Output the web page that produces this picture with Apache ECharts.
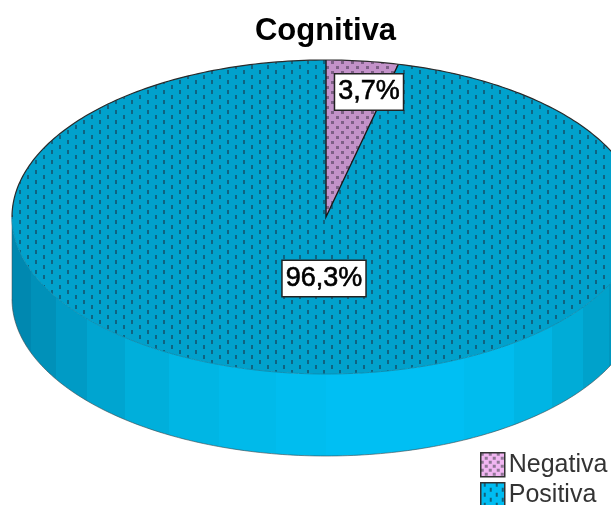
<!DOCTYPE html>
<html><head><meta charset="utf-8">
<style>html,body{margin:0;padding:0;background:#fff}#c{width:611px;height:505px}</style>
<script src="https://cdn.jsdelivr.net/npm/echarts@6/dist/echarts.min.js"></script>
</head><body><div id="c"></div>
<script>
const chartTitle = 'Cognitiva';
const categories = ['Negativa', 'Positiva'];
const values = [3.7, 96.3];

const FONT = '"Liberation Sans", Arial, sans-serif';
const CX = 326, CY = 217, RX = 314, RY = 157, DEPTH = 82;

function tile(w, h, bg, dots, dotColor, dw, dh) {
  const c = document.createElement('canvas');
  c.width = w; c.height = h;
  const g = c.getContext('2d');
  g.fillStyle = bg; g.fillRect(0, 0, w, h);
  dots.forEach(d => {
    g.fillStyle = dotColor;
    g.fillRect(d[0], d[1], dw, dh);
  });
  return { image: c, repeat: 'repeat' };
}
const blueTop = tile(16, 10, '#01a1cc', [[3, 0], [11, 5]], '#0f6482', 2, 4);
const pinkTop = tile(10, 10, '#c392c9', [[1, 1], [6, 6]], '#7d5f86', 3, 3);
const blueKey = tile(12, 10, '#00bdf2', [[3, 0], [9, 5]], '#12617c', 2, 4);
const pinkKey = tile(8, 8, '#f2b6f2', [[0, 0], [4, 4]], '#8f7695', 3, 3);

const wallBands = [
  [0.00, '#0088b0'], [0.03, '#0091b9'], [0.07, '#009bc5'], [0.12, '#00a5d0'],
  [0.18, '#00afdb'], [0.25, '#00b6e4'], [0.33, '#00baea'], [0.42, '#00bdef'],
  [0.50, '#00bff3'], [0.72, '#00bcee'], [0.80, '#00b5e4'], [0.86, '#00acd7'],
  [0.91, '#00a2cb'], [0.95, '#0097bf'], [1.00, '#0097bf']
];
function wallStops() {
  const s = [];
  wallBands.forEach((b, i) => {
    if (i) s.push({ offset: b[0], color: wallBands[i - 1][1] });
    s.push({ offset: b[0], color: b[1] });
  });
  return s;
}
// angle measured clockwise from the top of the pie, in share units
function pt(a, dy) {
  const t = a * Math.PI * 2;
  return [CX + RX * Math.sin(t), CY - RY * Math.cos(t) + (dy || 0)];
}
function arc(a0, a1, dy) {
  const n = Math.max(2, Math.ceil(Math.abs(a1 - a0) * 360));
  const out = [];
  for (let i = 0; i <= n; i++) out.push(pt(a0 + (a1 - a0) * i / n, dy));
  return out;
}
const total = values.reduce((a, b) => a + b, 0);
const labelBox = {
  Negativa: [369, 92],
  Positiva: [324, 278.5]
};

function renderSlice(idx, fill) {
  return function (params, api) {
    const v = api.value(0);
    let before = 0;
    for (let i = 0; i < idx; i++) before += values[i];
    const a0 = before / total, a1 = a0 + v / total;
    const children = [];
    if (idx === 1) {
      const lower = arc(0.25, 0.75, DEPTH);
      const upper = arc(0.75, 0.25, 0);
      children.push({
        type: 'polygon', shape: { points: lower.concat(upper) },
        style: { fill: { type: 'linear', x: 0, y: 0, x2: 1, y2: 0, colorStops: wallStops() }, stroke: null }
      });
      children.push({
        type: 'polyline', shape: { points: lower },
        style: { fill: null, stroke: 'rgba(60,70,75,0.6)', lineWidth: 1 }
      });
      children.push({
        type: 'line', shape: { x1: CX - RX, y1: CY, x2: CX - RX, y2: CY + DEPTH },
        style: { stroke: 'rgba(60,70,75,0.5)', lineWidth: 1 }
      });
    }
    children.push({
      type: 'polygon', shape: { points: [[CX, CY]].concat(arc(a0, a1)) },
      style: { fill: fill, stroke: null }
    });
    if (idx === 1) {
      children.push({
        type: 'polyline', shape: { points: arc(0.25, 0.75) },
        style: { fill: null, stroke: '#0b8fb3', lineWidth: 1 }
      });
      children.push({
        type: 'polyline', shape: { points: arc(0.75, 1) },
        style: { fill: null, stroke: '#2a2a2a', lineWidth: 1.2 }
      });
      children.push({
        type: 'polyline', shape: { points: arc(a0, 0.25) },
        style: { fill: null, stroke: '#2a2a2a', lineWidth: 1.2 }
      });
    } else {
      children.push({
        type: 'polyline', shape: { points: [pt(a1)].concat([[CX, CY]], [pt(a0)]) },
        style: { fill: null, stroke: '#161616', lineWidth: 1.4 }
      });
      children.push({
        type: 'polyline', shape: { points: arc(a0, a1) },
        style: { fill: null, stroke: '#2a2a2a', lineWidth: 1.2 }
      });
    }
    const c = labelBox[categories[idx]];
    children.push({
      type: 'text', z2: 50,
      style: {
        x: c[0], y: c[1], align: 'center', verticalAlign: 'middle',
        text: v.toFixed(1).replace('.', ',') + '%',
        font: '27px ' + FONT, fill: '#000', stroke: '#000', lineWidth: 0.6,
        backgroundColor: '#fff', borderColor: '#222', borderWidth: 1.5,
        padding: [6, 3, 2, 3]
      }
    });
    return { type: 'group', children: children };
  };
}

function legendFor(i, key, top, textTop) {
  return {
    left: 480, top: top, padding: 0, orient: 'vertical', itemWidth: 24, itemHeight: 24,
    selectedMode: false, icon: 'rect', itemGap: 0,
    textStyle: { fontFamily: FONT, fontSize: 25, color: '#333', padding: [textTop, 0, 0, -1] },
    data: [{ name: categories[i], itemStyle: { color: key, borderColor: '#333', borderWidth: 1.5, decal: 'none' } }]
  };
}

const chart = echarts.init(document.getElementById('c'), null, { renderer: 'canvas' });
chart.setOption({
  animation: false,
  backgroundColor: '#fff',
  title: {
    text: chartTitle, left: 325.5, top: 16, padding: 0, textAlign: 'center',
    textStyle: { fontFamily: FONT, fontSize: 31, fontWeight: 'bold', color: '#000' }
  },
  legend: [legendFor(0, pinkKey, 452, 0), legendFor(1, blueKey, 482, 3)],
  series: [
    { type: 'custom', name: categories[1], coordinateSystem: 'none', data: [[values[1]]], renderItem: renderSlice(1, blueTop), silent: true, z: 1 },
    { type: 'custom', name: categories[0], coordinateSystem: 'none', data: [[values[0]]], renderItem: renderSlice(0, pinkTop), silent: true, z: 2 }
  ]
});
</script></body></html>
